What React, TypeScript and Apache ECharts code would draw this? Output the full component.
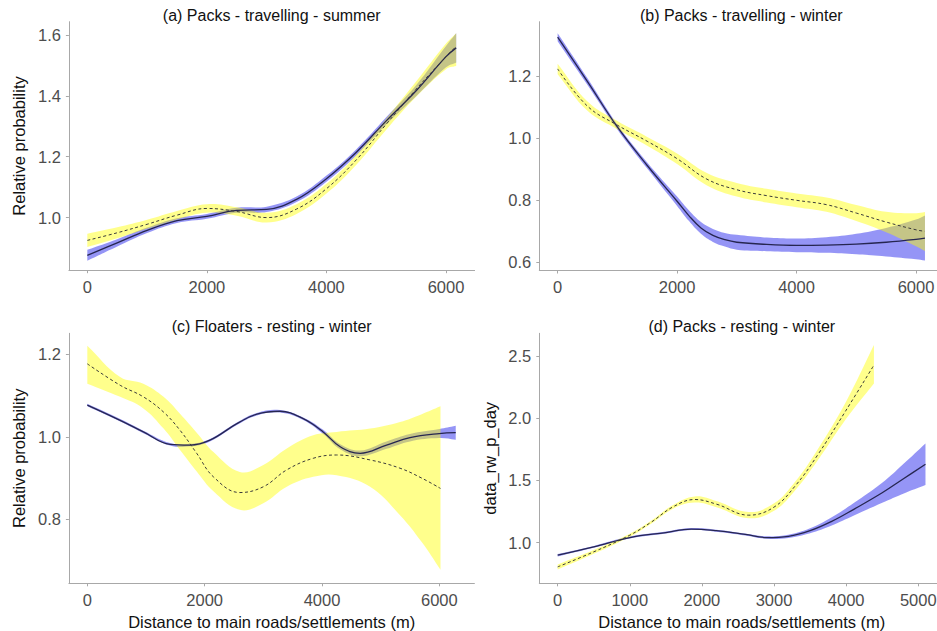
import React, { useEffect, useRef } from 'react';
import * as echarts from 'echarts';

// ---------- data ----------
// (a) Packs - travelling - summer
const aX = [0, 500, 1000, 1500, 2000, 2500, 3000, 3500, 4000, 4500, 5000, 5500, 6000, 6170];
const aBlueFit = [0.876, 0.917, 0.958, 0.99, 1.004, 1.024, 1.027, 1.06, 1.128, 1.215, 1.318, 1.417, 1.529, 1.558];
const aBlueLo = [0.858, 0.905, 0.949, 0.982, 0.996, 1.016, 1.018, 1.051, 1.118, 1.205, 1.306, 1.399, 1.494, 1.51];
const aBlueHi = [0.894, 0.929, 0.967, 0.998, 1.012, 1.032, 1.036, 1.069, 1.138, 1.225, 1.33, 1.435, 1.564, 1.606];
const aYellowFit = [0.925, 0.95, 0.978, 1.008, 1.03, 1.02, 1.0, 1.028, 1.095, 1.19, 1.307, 1.422, 1.529, 1.563];
const aYellowLo = [0.903, 0.932, 0.963, 0.994, 1.016, 1.006, 0.984, 1.012, 1.079, 1.174, 1.289, 1.397, 1.488, 1.498];
const aYellowHi = [0.947, 0.968, 0.993, 1.022, 1.044, 1.034, 1.016, 1.044, 1.111, 1.206, 1.325, 1.447, 1.572, 1.606];

// (b) Packs - travelling - winter
const bBlueX = [0, 500, 1000, 1500, 2000, 2200, 2400, 2600, 2800, 3000, 3500, 4000, 4500, 5000, 5500, 6000, 6150];
const bBlueFit = [1.325, 1.182, 1.036, 0.912, 0.797, 0.75, 0.711, 0.687, 0.673, 0.665, 0.658, 0.655, 0.656, 0.659, 0.665, 0.674, 0.678];
const bBlueLo = [1.312, 1.171, 1.028, 0.902, 0.782, 0.733, 0.692, 0.666, 0.651, 0.641, 0.636, 0.633, 0.631, 0.626, 0.619, 0.61, 0.606];
const bBlueHi = [1.338, 1.193, 1.044, 0.922, 0.812, 0.767, 0.73, 0.708, 0.695, 0.689, 0.68, 0.677, 0.681, 0.692, 0.711, 0.738, 0.751];
const bYellowX = [0, 500, 1000, 1500, 2000, 2500, 3000, 3500, 4000, 4500, 5000, 5500, 6000, 6150];
const bYellowFit = [1.223, 1.103, 1.042, 0.99, 0.934, 0.868, 0.834, 0.815, 0.8, 0.786, 0.759, 0.73, 0.705, 0.7];
const bYellowLo = [1.206, 1.088, 1.029, 0.976, 0.917, 0.848, 0.812, 0.793, 0.778, 0.763, 0.733, 0.697, 0.652, 0.637];
const bYellowHi = [1.24, 1.118, 1.055, 1.004, 0.951, 0.888, 0.856, 0.837, 0.822, 0.809, 0.785, 0.763, 0.758, 0.762];

// (c) Floaters - resting - winter
const cBlueX = [0, 560, 955, 1410, 1750, 2090, 2550, 2890, 3285, 3680, 4020, 4310, 4650, 5100, 5500, 6000, 6280];
const cBlueFit = [1.077, 1.04, 1.012, 0.982, 0.98, 0.992, 1.032, 1.055, 1.062, 1.044, 1.012, 0.976, 0.96, 0.98, 0.998, 1.008, 1.01];
const cBlueLo = [1.074, 1.037, 1.009, 0.979, 0.977, 0.989, 1.029, 1.052, 1.059, 1.041, 1.007, 0.97, 0.953, 0.971, 0.989, 0.997, 0.993];
const cBlueHi = [1.08, 1.043, 1.015, 0.985, 0.983, 0.995, 1.035, 1.058, 1.065, 1.047, 1.017, 0.982, 0.967, 0.989, 1.007, 1.019, 1.027];
const cYellowX = [0, 560, 955, 1300, 1580, 1865, 2150, 2600, 3000, 3400, 3850, 4250, 4820, 5330, 5700, 6020];
const cYellowFit = [1.177, 1.125, 1.097, 1.06, 1.016, 0.96, 0.903, 0.865, 0.879, 0.92, 0.948, 0.956, 0.944, 0.924, 0.9, 0.875];
const cYellowLo = [1.129, 1.097, 1.069, 1.02, 0.968, 0.916, 0.868, 0.823, 0.839, 0.879, 0.903, 0.907, 0.879, 0.81, 0.745, 0.678];
const cYellowHi = [1.221, 1.145, 1.129, 1.097, 1.056, 1.01, 0.963, 0.915, 0.932, 0.972, 1.004, 1.012, 1.02, 1.036, 1.055, 1.074];

// (d) Packs - resting - winter
const dBlueX = [0, 500, 1000, 1500, 1850, 2200, 2600, 2900, 3200, 3500, 3800, 4100, 4500, 4800, 5100];
const dBlueFit = [0.898, 0.965, 1.04, 1.08, 1.108, 1.095, 1.065, 1.04, 1.05, 1.095, 1.17, 1.265, 1.4, 1.515, 1.63];
const dBlueLo = [0.888, 0.957, 1.032, 1.072, 1.1, 1.087, 1.057, 1.03, 1.037, 1.075, 1.137, 1.215, 1.32, 1.395, 1.463];
const dBlueHi = [0.908, 0.973, 1.048, 1.088, 1.116, 1.103, 1.073, 1.05, 1.063, 1.115, 1.203, 1.315, 1.48, 1.635, 1.797];
const dYellowX = [0, 500, 1000, 1300, 1600, 1900, 2200, 2650, 3000, 3300, 3600, 4000, 4385];
const dYellowFit = [0.804, 0.925, 1.059, 1.165, 1.287, 1.346, 1.309, 1.22, 1.285, 1.46, 1.7, 2.065, 2.427];
const dYellowLo = [0.784, 0.91, 1.047, 1.153, 1.272, 1.321, 1.284, 1.195, 1.255, 1.425, 1.655, 1.995, 2.28];
const dYellowHi = [0.824, 0.94, 1.071, 1.177, 1.302, 1.371, 1.334, 1.245, 1.315, 1.495, 1.745, 2.135, 2.588];

// tick labels
const xTicks6000 = [0, 2000, 4000, 6000];
const xTicks5000 = [0, 1000, 2000, 3000, 4000, 5000];
const aYTicks = [1.0, 1.2, 1.4, 1.6];
const bYTicks = [0.6, 0.8, 1.0, 1.2];
const cYTicks = [0.8, 1.0, 1.2];
const dYTicks = [1.0, 1.5, 2.0, 2.5];

const titles = [
  '(a) Packs - travelling - summer',
  '(b) Packs - travelling - winter',
  '(c) Floaters - resting - winter',
  '(d) Packs - resting - winter',
];
const xTitle = 'Distance to main roads/settlements (m)';
const yTitleRel = 'Relative probability';
const yTitleD = 'data_rw_p_day';

// ---------- styles ----------
const FONT = '"Liberation Sans", Arial, Helvetica, sans-serif';
const BLUE_BAND = 'rgba(20,20,235,0.45)';
const YELLOW_BAND = 'rgba(255,255,0,0.45)';
const SOLID = '#262650';
const DASH = '#3a3a3a';
const AXIS = '#a8a8a8';
const TICK_TEXT = '#4d4d4d';
const SMOOTH = 0.4;

function smoothPath(pts: number[][], s: number): string {
  let d = '';
  const n = pts.length;
  for (let i = 0; i < n - 1; i++) {
    const p0 = pts[Math.max(i - 1, 0)];
    const p1 = pts[i];
    const p2 = pts[i + 1];
    const p3 = pts[Math.min(i + 2, n - 1)];
    const d01 = Math.hypot(p1[0] - p0[0], p1[1] - p0[1]);
    const d12 = Math.hypot(p2[0] - p1[0], p2[1] - p1[1]);
    const d23 = Math.hypot(p3[0] - p2[0], p3[1] - p2[1]);
    const r1 = d01 + d12 > 0 ? d12 / (d01 + d12) : 0.5;
    const r2 = d12 + d23 > 0 ? d12 / (d12 + d23) : 0.5;
    const c1 = [p1[0] + (p2[0] - p0[0]) * s * r1, p1[1] + (p2[1] - p0[1]) * s * r1];
    const c2 = [p2[0] - (p3[0] - p1[0]) * s * r2, p2[1] - (p3[1] - p1[1]) * s * r2];
    d += ` C${c1[0].toFixed(2)},${c1[1].toFixed(2)} ${c2[0].toFixed(2)},${c2[1].toFixed(2)} ${p2[0].toFixed(2)},${p2[1].toFixed(2)}`;
  }
  return d;
}

function bandD(api: any, xs: number[], lo: number[], hi: number[]): string {
  const up = xs.map((x, i) => api.coord([x, hi[i]]));
  const dn = xs.map((x, i) => api.coord([x, lo[i]])).reverse();
  return (
    `M${up[0][0].toFixed(2)},${up[0][1].toFixed(2)}` +
    smoothPath(up, SMOOTH) +
    ` L${dn[0][0].toFixed(2)},${dn[0][1].toFixed(2)}` +
    smoothPath(dn, SMOOTH) +
    ' Z'
  );
}

function bandSeries(idx: number, xs: number[], lo: number[], hi: number[], color: string) {
  return {
    type: 'custom',
    xAxisIndex: idx,
    yAxisIndex: idx,
    silent: true,
    data: [[xs[0], lo[0]]],
    renderItem: (_p: any, api: any) => ({
      type: 'path',
      shape: { pathData: bandD(api, xs, lo, hi) },
      style: { fill: color },
    }),
  };
}

function lineSeries(idx: number, xs: number[], ys: number[], dashed: boolean) {
  return {
    type: 'line',
    xAxisIndex: idx,
    yAxisIndex: idx,
    data: xs.map((x, i) => [x, ys[i]]),
    smooth: SMOOTH,
    symbol: 'none',
    silent: true,
    lineStyle: dashed
      ? { color: DASH, width: 1, type: [3, 2.5] }
      : { color: SOLID, width: 1.3 },
  };
}

const panels = [
  { left: 68.9, top: 21.7, width: 405.7, height: 248.5, xMin: -308, xMax: 6478, yMin: 0.827, yMax: 1.644, xTicks: xTicks6000, yTicks: aYTicks, yName: yTitleRel, xName: '', titleY: 15 },
  { left: 539.3, top: 21.7, width: 404, height: 248.8, xMin: -307, xMax: 6457, yMin: 0.574, yMax: 1.375, xTicks: xTicks6000, yTicks: bYTicks, yName: '', xName: '', titleY: 15 },
  { left: 68.9, top: 333.3, width: 405.5, height: 250, xMin: -314, xMax: 6598, yMin: 0.645, yMax: 1.251, xTicks: xTicks6000, yTicks: cYTicks, yName: yTitleRel, xName: xTitle, titleY: 326.7 },
  { left: 539.3, top: 333.3, width: 405, height: 250, xMin: -255, xMax: 5361, yMin: 0.672, yMax: 2.683, xTicks: xTicks5000, yTicks: dYTicks, yName: yTitleD, xName: xTitle, titleY: 326.7 },
];

const nameStyle = { color: '#111', fontSize: 16.5, fontFamily: FONT };

export default function App() {
  const ref = useRef<HTMLDivElement>(null);
  useEffect(() => {
    if (!ref.current) return;
    const chart = echarts.init(ref.current, null, { renderer: 'svg' });
    const option: any = {
      animation: false,
      backgroundColor: '#ffffff',
      grid: panels.map((p) => ({
        left: p.left, top: p.top, width: p.width, height: p.height,
        containLabel: false, outerBoundsMode: 'none', show: false,
      })),
      xAxis: panels.map((p, i) => ({
        gridIndex: i,
        type: 'value',
        min: p.xMin,
        max: p.xMax,
        splitLine: { show: false },
        axisLine: { show: true, onZero: false, lineStyle: { color: AXIS, width: 1 } },
        axisTick: { show: true, length: 3, customValues: p.xTicks, lineStyle: { color: AXIS } },
        axisLabel: {
          customValues: p.xTicks, color: TICK_TEXT, fontSize: 16.5, fontFamily: FONT, margin: 8,
          formatter: (v: number) => String(Math.round(v)),
        },
        name: p.xName,
        nameLocation: 'middle',
        nameGap: 30,
        nameTextStyle: nameStyle,
      })),
      yAxis: panels.map((p, i) => ({
        gridIndex: i,
        type: 'value',
        min: p.yMin,
        max: p.yMax,
        splitLine: { show: false },
        axisLine: { show: true, onZero: false, lineStyle: { color: AXIS, width: 1 } },
        axisTick: { show: true, length: 3, customValues: p.yTicks, lineStyle: { color: AXIS } },
        axisLabel: {
          customValues: p.yTicks, color: TICK_TEXT, fontSize: 16.5, fontFamily: FONT, margin: 8,
          formatter: (v: number) => v.toFixed(1),
        },
        name: p.yName,
        nameLocation: 'middle',
        nameGap: 41,
        nameTextStyle: nameStyle,
      })),
      graphic: panels.map((p, i) => ({
        type: 'text',
        x: p.left + p.width / 2,
        y: p.titleY,
        silent: true,
        style: {
          text: titles[i], fill: '#111', fontSize: 16, fontFamily: FONT,
          align: 'center', verticalAlign: 'middle',
        },
      })),
      series: [
        bandSeries(0, aX, aBlueLo, aBlueHi, BLUE_BAND),
        lineSeries(0, aX, aBlueFit, false),
        bandSeries(0, aX, aYellowLo, aYellowHi, YELLOW_BAND),
        lineSeries(0, aX, aYellowFit, true),

        bandSeries(1, bBlueX, bBlueLo, bBlueHi, BLUE_BAND),
        lineSeries(1, bBlueX, bBlueFit, false),
        bandSeries(1, bYellowX, bYellowLo, bYellowHi, YELLOW_BAND),
        lineSeries(1, bYellowX, bYellowFit, true),

        bandSeries(2, cBlueX, cBlueLo, cBlueHi, BLUE_BAND),
        lineSeries(2, cBlueX, cBlueFit, false),
        bandSeries(2, cYellowX, cYellowLo, cYellowHi, YELLOW_BAND),
        lineSeries(2, cYellowX, cYellowFit, true),

        bandSeries(3, dBlueX, dBlueLo, dBlueHi, BLUE_BAND),
        lineSeries(3, dBlueX, dBlueFit, false),
        bandSeries(3, dYellowX, dYellowLo, dYellowHi, YELLOW_BAND),
        lineSeries(3, dYellowX, dYellowFit, true),
      ],
    };
    chart.setOption(option);
    return () => chart.dispose();
  }, []);
  return (
    <div
      ref={ref}
      style={{ position: 'fixed', left: 0, top: 0, width: 937, height: 631, background: '#fff' }}
    />
  );
}
